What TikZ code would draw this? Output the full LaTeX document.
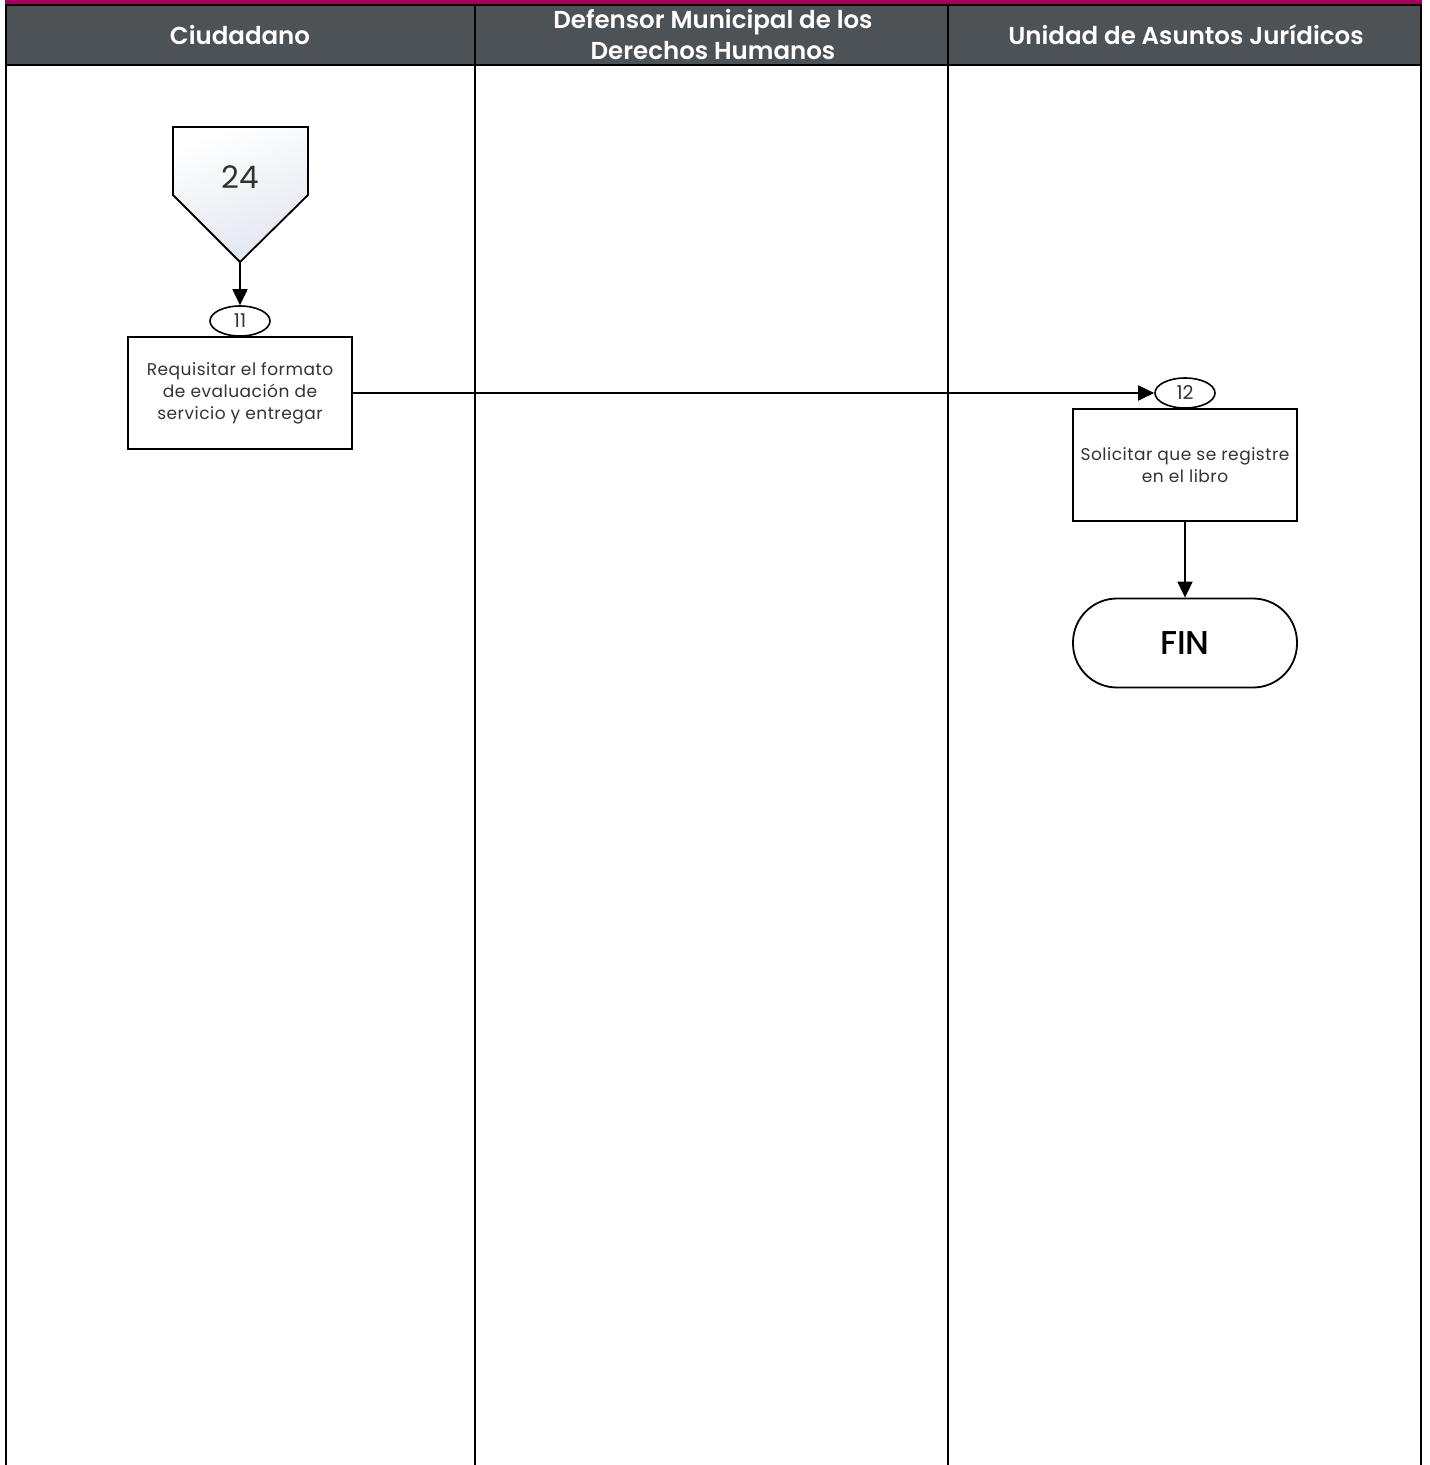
\documentclass[tikz,border=0pt]{standalone}
\usepackage{fontspec}
\setmainfont{Poppins}
\newfontfamily\hdrfont{Poppins SemiBold}
\newfontfamily\medfont{Poppins Medium}
\usetikzlibrary{arrows.meta,shapes.geometric}
\definecolor{hdr}{HTML}{4D5257}
\definecolor{mag}{HTML}{A3005A}
\definecolor{gfill}{HTML}{E2E6EF}
\definecolor{txt}{HTML}{333333}
\begin{document}
\begin{tikzpicture}[x=1pt,y=-1pt,
  lane/.style={line width=2pt,black},
  hdrtext/.style={text=white,font=\hdrfont\fontsize{24.5}{31}\selectfont,align=center},
  procbox/.style={draw=black,line width=1.8pt,fill=white,minimum width=224pt,minimum height=112pt,inner sep=0pt,align=center,text=txt,font=\fontsize{17}{22}\selectfont\addfontfeatures{LetterSpace=3}},
  numell/.style={draw=black,line width=1.6pt,fill=white,ellipse,minimum width=60pt,minimum height=30pt,inner sep=0pt,font=\fontsize{19}{19}\selectfont,text=txt},
  termbox/.style={draw=black,line width=1.8pt,fill=white,rounded corners=44pt,minimum width=224pt,minimum height=89pt,inner sep=0pt,font=\medfont\fontsize{33}{33}\selectfont,text=black},
  arr/.style={line width=1.8pt,-{Triangle[length=16pt,width=15pt]}},
  conn/.style={line width=1.8pt}
]
\useasboundingbox (0,0) rectangle (1430,1465);
% header
\fill[mag] (5,0) rectangle (1422,5);
\fill[hdr] (5,5) rectangle (1422,65);
\draw[lane] (5,5) -- (1422,5);
\draw[lane] (5,65) -- (1422,65);
\foreach \x in {6,475,948,1421} {\draw[lane] (\x,5) -- (\x,1466);}
\node[hdrtext] (h1) at (240,35) {Ciudadano};
\node[hdrtext] (h2) at (713,35) {Defensor Municipal de los\\Derechos Humanos};
\node[hdrtext] (h3) at (1186,35) {Unidad de Asuntos Jurídicos};
% off-page connector 24
\draw[line width=1.8pt,top color=white,bottom color=gfill,shading angle=20]
  (173,127) -- (308,127) -- (308,195) -- (240,262) -- (173,195) -- cycle;
\coordinate (c24) at (240,262);
\node[font=\fontsize{31}{31}\selectfont,text=txt] (n24) at (240,177) {24};
% step 11
\node[numell] (e11) at (240,321) {11};
\node[procbox] (b11) at (240,393) {Requisitar el formato\\de evaluación de\\servicio y entregar};
% step 12
\node[numell] (e12) at (1185,393) {12};
\node[procbox] (b12) at (1185,465) {Solicitar que se registre\\en el libro};
% FIN
\node[termbox] (fin) at (1185,643) {FIN};
% connectors
\draw[arr] (c24) -- (e11.north);
\draw[arr] (b11.east) -- (e12.west);
\draw[arr] (b12.south) -- (fin.north);
\end{tikzpicture}
\end{document}
